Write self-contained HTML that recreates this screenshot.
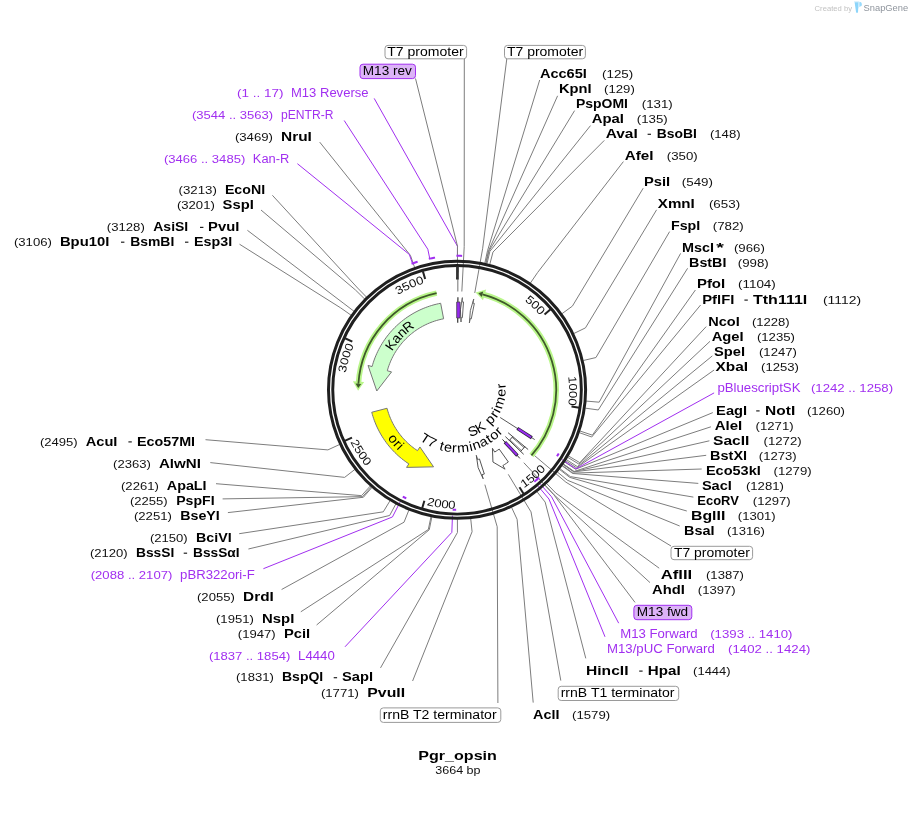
<!DOCTYPE html>
<html><head><meta charset="utf-8"><title>Pgr_opsin</title>
<style>html,body{margin:0;padding:0;background:#fff}body{width:912px;height:813px;overflow:hidden;font-family:"Liberation Sans",sans-serif}svg{display:block;will-change:transform}</style>
</head><body>
<svg width="912" height="813" viewBox="0 0 912 813" font-family="'Liberation Sans', sans-serif">
<rect width="912" height="813" fill="#fff"/>
<polyline points="539.7,80 487.51,250.76 484.75,263.46" fill="none" stroke="#7d7d7d" stroke-width="1"/>
<polyline points="557.6,95.8 488.47,250.97 485.61,263.66" fill="none" stroke="#7d7d7d" stroke-width="1"/>
<polyline points="574.6,110.6 488.94,251.08 486.05,263.75" fill="none" stroke="#7d7d7d" stroke-width="1"/>
<polyline points="590.5,125.6 489.9,251.3 486.91,263.95" fill="none" stroke="#7d7d7d" stroke-width="1"/>
<polyline points="604.3,140.4 492.98,252.06 489.71,264.65" fill="none" stroke="#7d7d7d" stroke-width="1"/>
<polyline points="623.4,161.6 537.68,272.41 530.34,283.13" fill="none" stroke="#7d7d7d" stroke-width="1"/>
<polyline points="643.2,188.2 572.4,306.12 561.89,313.77" fill="none" stroke="#7d7d7d" stroke-width="1"/>
<polyline points="656.6,209.8 585.45,327.89 573.75,333.55" fill="none" stroke="#7d7d7d" stroke-width="1"/>
<polyline points="669.6,231.6 595.95,357.54 583.3,360.5" fill="none" stroke="#7d7d7d" stroke-width="1"/>
<polyline points="680.6,253.4 599.18,402.2 586.22,401.09" fill="none" stroke="#7d7d7d" stroke-width="1"/>
<polyline points="687.6,268.3 598.29,409.97 585.42,408.15" fill="none" stroke="#7d7d7d" stroke-width="1"/>
<polyline points="695.4,290 592.36,435.15 580.03,431.03" fill="none" stroke="#7d7d7d" stroke-width="1"/>
<polyline points="700.6,305 591.73,437 579.45,432.71" fill="none" stroke="#7d7d7d" stroke-width="1"/>
<polyline points="706.2,326.6 579.79,462.66 568.6,456.03" fill="none" stroke="#7d7d7d" stroke-width="1"/>
<polyline points="710,341.3 578.91,464.12 567.8,457.36" fill="none" stroke="#7d7d7d" stroke-width="1"/>
<polyline points="712.3,355.9 577.35,466.61 566.39,459.62" fill="none" stroke="#7d7d7d" stroke-width="1"/>
<polyline points="714.1,370 576.56,467.84 565.67,460.74" fill="none" stroke="#7d7d7d" stroke-width="1"/>
<polyline points="712.8,412.6 575.62,469.27 564.81,462.04" fill="none" stroke="#7d7d7d" stroke-width="1"/>
<polyline points="710.9,426.8 574.1,471.49 563.44,464.06" fill="none" stroke="#7d7d7d" stroke-width="1"/>
<polyline points="709.4,440.8 573.96,471.69 563.31,464.24" fill="none" stroke="#7d7d7d" stroke-width="1"/>
<polyline points="706.2,455.3 573.82,471.89 563.18,464.42" fill="none" stroke="#7d7d7d" stroke-width="1"/>
<polyline points="701.7,469 572.97,473.09 562.41,465.51" fill="none" stroke="#7d7d7d" stroke-width="1"/>
<polyline points="698.3,483.4 572.69,473.48 562.15,465.87" fill="none" stroke="#7d7d7d" stroke-width="1"/>
<polyline points="693.4,497.1 570.35,476.62 560.03,468.72" fill="none" stroke="#7d7d7d" stroke-width="1"/>
<polyline points="686.8,511 569.76,477.39 559.49,469.42" fill="none" stroke="#7d7d7d" stroke-width="1"/>
<polyline points="679.7,526 567.47,480.26 557.41,472.03" fill="none" stroke="#7d7d7d" stroke-width="1"/>
<polyline points="659.2,568.2 555.69,492.98 546.71,483.59" fill="none" stroke="#7d7d7d" stroke-width="1"/>
<polyline points="650,582.6 553.91,494.66 545.09,485.11" fill="none" stroke="#7d7d7d" stroke-width="1"/>
<polyline points="585.8,658.4 545.17,502.1 537.15,491.88" fill="none" stroke="#7d7d7d" stroke-width="1"/>
<polyline points="533.2,702.6 517.1,519.3 511.64,507.5" fill="none" stroke="#7d7d7d" stroke-width="1"/>
<polyline points="412.6,681 472.08,531.72 470.72,518.79" fill="none" stroke="#7d7d7d" stroke-width="1"/>
<polyline points="380.5,667.9 457.44,532.5 457.42,519.5" fill="none" stroke="#7d7d7d" stroke-width="1"/>
<polyline points="316.6,625 429.28,529.74 431.83,516.99" fill="none" stroke="#7d7d7d" stroke-width="1"/>
<polyline points="300.8,611.8 428.32,529.54 430.96,516.81" fill="none" stroke="#7d7d7d" stroke-width="1"/>
<polyline points="281.6,589.5 404.03,522.21 408.88,510.15" fill="none" stroke="#7d7d7d" stroke-width="1"/>
<polyline points="248.4,549 389.65,515.47 395.81,504.03" fill="none" stroke="#7d7d7d" stroke-width="1"/>
<polyline points="239.2,533.7 383.29,511.83 390.03,500.72" fill="none" stroke="#7d7d7d" stroke-width="1"/>
<polyline points="227.9,512.6 363.4,497.27 371.95,487.49" fill="none" stroke="#7d7d7d" stroke-width="1"/>
<polyline points="222.6,498.9 362.66,496.63 371.29,486.9" fill="none" stroke="#7d7d7d" stroke-width="1"/>
<polyline points="216,483.7 361.57,495.65 370.29,486.01" fill="none" stroke="#7d7d7d" stroke-width="1"/>
<polyline points="210.3,462.6 344.64,477.39 354.91,469.42" fill="none" stroke="#7d7d7d" stroke-width="1"/>
<polyline points="205.5,439.7 327.9,449.9 339.7,444.44" fill="none" stroke="#7d7d7d" stroke-width="1"/>
<polyline points="239.5,244.2 340.72,307.91 351.35,315.4" fill="none" stroke="#7d7d7d" stroke-width="1"/>
<polyline points="247.4,230.3 343.9,303.57 354.24,311.46" fill="none" stroke="#7d7d7d" stroke-width="1"/>
<polyline points="261,210 355.58,290.1 364.85,299.22" fill="none" stroke="#7d7d7d" stroke-width="1"/>
<polyline points="272.4,195.3 357.65,288.04 366.74,297.34" fill="none" stroke="#7d7d7d" stroke-width="1"/>
<polyline points="319.7,142.1 410.43,255.39 414.7,267.67" fill="none" stroke="#7d7d7d" stroke-width="1"/>
<polyline points="714.1,392.9 575.89,468.86 561.98,459.62" fill="none" stroke="#a12ff0" stroke-width="1.0"/>
<polyline points="618.7,623.2 551.55,496.79 540.5,484.27" fill="none" stroke="#a12ff0" stroke-width="1.0"/>
<polyline points="605,636.8 548.96,499.02 538.21,486.25" fill="none" stroke="#a12ff0" stroke-width="1.0"/>
<polyline points="345,646.8 451.83,532.4 452.46,515.71" fill="none" stroke="#a12ff0" stroke-width="1.0"/>
<polyline points="263.4,568.7 392.46,516.95 400.05,502.07" fill="none" stroke="#a12ff0" stroke-width="1.0"/>
<polyline points="297.4,163.7 409.31,254.41 412.34,262.99" fill="none" stroke="#a12ff0" stroke-width="1.0"/>
<polyline points="344.2,120.5 427.82,249.23 429.68,258.14" fill="none" stroke="#a12ff0" stroke-width="1.0"/>
<polyline points="374.2,98.4 457.45,246.2 457.43,255.3" fill="none" stroke="#a12ff0" stroke-width="1.0"/>
<polyline points="415.5,78.5 457.5,246.2 457.46,266" fill="none" stroke="#7d7d7d" stroke-width="1"/>
<polyline points="457.78,279 457.72,291.4" fill="none" stroke="#a0a0a0" stroke-width="1.5"/>
<polyline points="464.3,58.8 464.21,246.67 461.84,291.51" fill="none" stroke="#7d7d7d" stroke-width="1"/>
<polyline points="506.8,58.8 482.61,248.77 474.75,292.97" fill="none" stroke="#7d7d7d" stroke-width="1"/>
<polyline points="671,546 565.88,482.17 533.16,454.42" fill="none" stroke="#7d7d7d" stroke-width="1"/>
<polyline points="635,602.4 553.84,494.73 523.81,462.7" fill="none" stroke="#7d7d7d" stroke-width="1"/>
<polyline points="560.8,680.6 531.02,511.89 508.28,474.34" fill="none" stroke="#7d7d7d" stroke-width="1"/>
<polyline points="497.9,703 497.2,526.77 484.87,484.64" fill="none" stroke="#7d7d7d" stroke-width="1"/>
<path d="M558.76,453.54 A119.8,119.8 0 0 1 556.98,456.3" fill="none" stroke="#a12ff0" stroke-width="2" stroke-linecap="butt"/>
<path d="M539.11,477.43 A119.8,119.8 0 0 1 536.52,479.78" fill="none" stroke="#a12ff0" stroke-width="2" stroke-linecap="butt"/>
<path d="M537.75,478.68 A119.8,119.8 0 0 1 534.35,481.65" fill="none" stroke="#a12ff0" stroke-width="2" stroke-linecap="butt"/>
<path d="M456.17,509.8 A119.8,119.8 0 0 1 452.68,509.71" fill="none" stroke="#a12ff0" stroke-width="2" stroke-linecap="butt"/>
<path d="M406.28,498.44 A119.8,119.8 0 0 1 402.78,496.72" fill="none" stroke="#a12ff0" stroke-width="2" stroke-linecap="butt"/>
<path d="M412.5,263.46 A134.2,134.2 0 0 1 416.65,262.07" fill="none" stroke="#a12ff0" stroke-width="2" stroke-linecap="square"/>
<path d="M429.78,258.63 A134.2,134.2 0 0 1 434.07,257.81" fill="none" stroke="#a12ff0" stroke-width="2" stroke-linecap="square"/>
<path d="M457.43,255.8 A134.2,134.2 0 0 1 461.11,255.86" fill="none" stroke="#a12ff0" stroke-width="2" stroke-linecap="square"/>
<circle cx="457.05" cy="389.8" r="128.55" fill="none" stroke="#1f1f1f" stroke-width="3"/>
<circle cx="457.05" cy="389.8" r="124.3" fill="none" stroke="#1f1f1f" stroke-width="2.95"/>
<line x1="457.43" y1="279.6" x2="457.46" y2="266.5" stroke="#333" stroke-width="2.8"/>
<line x1="544.54" y1="314.42" x2="550.59" y2="309.18" stroke="#222" stroke-width="2"/>
<line x1="571.5" y1="406.58" x2="579.42" y2="407.73" stroke="#222" stroke-width="2"/>
<line x1="519.46" y1="487.28" x2="523.77" y2="494.02" stroke="#222" stroke-width="2"/>
<line x1="424.38" y1="500.74" x2="422.11" y2="508.41" stroke="#222" stroke-width="2"/>
<line x1="351.99" y1="437.65" x2="344.7" y2="440.95" stroke="#222" stroke-width="2"/>
<line x1="352.32" y1="341.63" x2="345.05" y2="338.28" stroke="#222" stroke-width="2"/>
<line x1="425.14" y1="279.04" x2="422.92" y2="271.35" stroke="#222" stroke-width="2"/>
<polygon points="440.65,303.26 438.41,303.72 436.19,304.24 433.97,304.81 431.77,305.44 429.59,306.13 427.43,306.87 425.29,307.67 423.17,308.52 421.07,309.43 419,310.39 416.95,311.41 414.93,312.48 412.93,313.6 410.97,314.77 409.04,315.99 407.14,317.26 405.27,318.58 403.44,319.95 401.64,321.37 399.88,322.83 398.16,324.34 396.48,325.89 394.84,327.48 393.25,329.12 391.69,330.79 390.18,332.51 388.71,334.26 387.29,336.06 385.92,337.88 384.59,339.75 383.32,341.64 382.09,343.57 380.91,345.53 379.79,347.52 378.71,349.54 377.69,351.59 376.72,353.66 375.81,355.76 374.95,357.87 374.15,360.02 373.4,362.18 372.71,364.36 372.07,366.55 368.02,365.44 376.81,390.98 391.55,371.92 387.3,370.75 387.83,368.94 388.39,367.15 389.01,365.38 389.67,363.62 390.37,361.88 391.12,360.16 391.92,358.46 392.76,356.78 393.64,355.12 394.56,353.49 395.53,351.88 396.54,350.3 397.59,348.74 398.67,347.21 399.8,345.71 400.97,344.24 402.17,342.8 403.41,341.39 404.69,340.01 406,338.67 407.35,337.36 408.73,336.09 410.14,334.85 411.58,333.65 413.06,332.49 414.56,331.36 416.09,330.28 417.65,329.23 419.24,328.23 420.85,327.27 422.49,326.35 424.15,325.47 425.83,324.64 427.53,323.85 429.26,323.1 431,322.4 432.76,321.74 434.53,321.13 436.32,320.57 438.13,320.05 439.95,319.58 441.78,319.16 443.61,318.78" fill="#ccffcc" stroke="#777" stroke-width="1" stroke-linejoin="miter"/>
<polygon points="371.75,412.26 372.34,414.42 372.99,416.57 373.69,418.7 374.45,420.81 375.26,422.9 376.12,424.97 377.03,427.02 378,429.04 379.02,431.04 380.08,433.01 381.2,434.96 382.37,436.87 383.58,438.76 384.84,440.61 386.15,442.43 387.51,444.22 388.91,445.97 390.35,447.69 391.84,449.37 393.37,451.01 394.94,452.61 396.55,454.17 398.19,455.69 399.88,457.17 401.61,458.6 403.37,459.99 405.16,461.34 406.99,462.63 408.85,463.89 406.55,467.4 433.56,466.85 419.91,446.98 417.5,450.67 415.97,449.64 414.47,448.57 413,447.47 411.55,446.33 410.14,445.15 408.75,443.94 407.4,442.69 406.08,441.41 404.79,440.09 403.53,438.74 402.31,437.37 401.13,435.96 399.98,434.52 398.87,433.05 397.79,431.56 396.76,430.03 395.76,428.49 394.8,426.91 393.88,425.32 393.01,423.7 392.17,422.06 391.38,420.39 390.63,418.71 389.92,417.01 389.26,415.3 388.64,413.56 388.06,411.81 387.53,410.05 387.04,408.28" fill="#ffff00" stroke="#777" stroke-width="1" stroke-linejoin="miter"/>
<polygon points="508.35,461.98 506.56,463.22 504.73,464.42 502.88,465.57 505.05,469.16 492.95,462.02 492.43,448.28 494.7,452.05 496.23,451.1 497.72,450.12 499.2,449.1" fill="#ffffff" stroke="#555" stroke-width="1" stroke-linejoin="miter"/>
<polygon points="484.34,474.03 483.16,474.4 481.98,474.75 483.16,478.78 478.14,467.62 476.31,455.36 477.55,459.59 478.52,459.29 479.48,458.99" fill="#ffffff" stroke="#555" stroke-width="1" stroke-linejoin="miter"/>
<polygon points="463.51,301.93 462.13,301.84 462.36,297.64 460.43,309.66 461,322.01 461.25,317.61 462.38,317.69" fill="#ffffff" stroke="#666" stroke-width="1" stroke-linejoin="miter"/>
<polygon points="474.35,303.38 472.99,303.12 473.74,298.99 470.33,310.68 469.38,323 470.16,318.67 471.28,318.88" fill="#ffffff" stroke="#666" stroke-width="1" stroke-linejoin="miter"/>
<line x1="457.9" y1="297.3" x2="457.7" y2="322.8" stroke="#333" stroke-width="1.2"/>
<polygon points="456.7,302 460.0,302 460.3,310 460.0,318 456.7,318" fill="#9428ee" stroke="#444" stroke-width="0.8"/>
<line x1="508.14" y1="432.75" x2="528.14" y2="449.52" stroke="#444" stroke-width="1"/>
<line x1="505.36" y1="436.58" x2="523.68" y2="454.31" stroke="#444" stroke-width="1"/>
<line x1="512.12" y1="437.33" x2="524.09" y2="447.64" stroke="#666" stroke-width="0.9"/>
<line x1="509.92" y1="439.77" x2="521.41" y2="450.61" stroke="#666" stroke-width="0.9"/>
<line x1="512.74" y1="436.6" x2="509.31" y2="440.41" stroke="#444" stroke-width="1"/>
<line x1="524.84" y1="446.76" x2="520.66" y2="451.39" stroke="#444" stroke-width="1"/>
<line x1="500.17" y1="417.48" x2="534.71" y2="439.57" stroke="#444" stroke-width="0.9"/>
<line x1="517.27" y1="428.41" x2="531.84" y2="437.74" stroke="#2f2440" stroke-width="3.3"/>
<line x1="518.14" y1="428.9" x2="531.12" y2="437.19" stroke="#9a2cf2" stroke-width="1.9"/>
<line x1="502.46" y1="439.4" x2="519.89" y2="458.42" stroke="#333" stroke-width="1"/>
<line x1="504.9" y1="442.05" x2="517.4" y2="455.69" stroke="#2f2440" stroke-width="3.3"/>
<line x1="505.62" y1="442.75" x2="516.84" y2="454.98" stroke="#9a2cf2" stroke-width="1.9"/>
<path d="M531.46,455.47 A99,99 0 0 0 482.49,294.28" fill="none" stroke="#b9f68a" stroke-width="5.5"/>
<polygon points="486.13,289.43 475.6,292.62 483.01,300.29" fill="#b9f68a"/>
<path d="M531.46,455.47 A99,99 0 0 0 482.49,294.28" fill="none" stroke="#3f5a2a" stroke-width="1.8"/>
<polygon points="483.23,291.48 478.29,293.27 481.75,297.09" fill="#3f5a2a"/>
<path d="M436.62,293.16 A99,99 0 0 0 358.4,383.78" fill="none" stroke="#b9f68a" stroke-width="5.5"/>
<polygon points="352.92,381.15 358.1,390.86 364.18,382.11" fill="#b9f68a"/>
<path d="M436.62,293.16 A99,99 0 0 0 358.4,383.78" fill="none" stroke="#3f5a2a" stroke-width="1.8"/>
<polygon points="355.5,383.6 358.22,388.1 361.29,383.97" fill="#3f5a2a"/>
<text transform="translate(527.24,303.12) rotate(38.87) scale(1.15,1)" x="-3.17" y="0" font-size="11.4" fill="#111">5</text>
<text transform="translate(532.7,307.82) rotate(42.58) scale(1.15,1)" x="-3.17" y="0" font-size="11.4" fill="#111">0</text>
<text transform="translate(537.85,312.86) rotate(46.28) scale(1.15,1)" x="-3.17" y="0" font-size="11.4" fill="#111">0</text>
<text transform="translate(568.65,380.02) rotate(84.89) scale(1.15,1)" x="-3.17" y="0" font-size="11.4" fill="#111">1</text>
<text transform="translate(569.07,387.22) rotate(88.58) scale(1.15,1)" x="-3.17" y="0" font-size="11.4" fill="#111">0</text>
<text transform="translate(569.01,394.43) rotate(92.27) scale(1.15,1)" x="-3.17" y="0" font-size="11.4" fill="#111">0</text>
<text transform="translate(568.5,401.61) rotate(95.96) scale(1.15,1)" x="-3.17" y="0" font-size="11.4" fill="#111">0</text>
<text transform="translate(346.51,369.34) rotate(280.57) scale(1.15,1)" x="-3.17" y="0" font-size="11.4" fill="#111">3</text>
<text transform="translate(348.06,362.3) rotate(284.24) scale(1.15,1)" x="-3.17" y="0" font-size="11.4" fill="#111">0</text>
<text transform="translate(350.06,355.38) rotate(287.91) scale(1.15,1)" x="-3.17" y="0" font-size="11.4" fill="#111">0</text>
<text transform="translate(352.49,348.59) rotate(291.58) scale(1.15,1)" x="-3.17" y="0" font-size="11.4" fill="#111">0</text>
<text transform="translate(401.23,293.22) rotate(329.96) scale(1.15,1)" x="-3.17" y="0" font-size="11.4" fill="#111">3</text>
<text transform="translate(407.58,289.82) rotate(333.65) scale(1.15,1)" x="-3.17" y="0" font-size="11.4" fill="#111">5</text>
<text transform="translate(414.14,286.83) rotate(337.35) scale(1.15,1)" x="-3.17" y="0" font-size="11.4" fill="#111">0</text>
<text transform="translate(420.87,284.27) rotate(341.04) scale(1.15,1)" x="-3.17" y="0" font-size="11.4" fill="#111">0</text>
<text transform="translate(527.04,486.22) rotate(324.03) scale(1.15,1)" x="-3.17" y="0" font-size="11.4" fill="#111">1</text>
<text transform="translate(532.8,481.77) rotate(320.52) scale(1.15,1)" x="-3.17" y="0" font-size="11.4" fill="#111">5</text>
<text transform="translate(538.27,476.97) rotate(317.01) scale(1.15,1)" x="-3.17" y="0" font-size="11.4" fill="#111">0</text>
<text transform="translate(543.44,471.85) rotate(313.5) scale(1.15,1)" x="-3.17" y="0" font-size="11.4" fill="#111">0</text>
<text transform="translate(430.14,505.78) rotate(373.15) scale(1.15,1)" x="-3.17" y="0" font-size="11.4" fill="#111">2</text>
<text transform="translate(437.28,507.22) rotate(369.65) scale(1.15,1)" x="-3.17" y="0" font-size="11.4" fill="#111">0</text>
<text transform="translate(444.49,508.22) rotate(366.14) scale(1.15,1)" x="-3.17" y="0" font-size="11.4" fill="#111">0</text>
<text transform="translate(451.74,508.77) rotate(362.63) scale(1.15,1)" x="-3.17" y="0" font-size="11.4" fill="#111">0</text>
<text transform="translate(351.95,445.31) rotate(422.28) scale(1.15,1)" x="-3.17" y="0" font-size="11.4" fill="#111">2</text>
<text transform="translate(355.53,451.64) rotate(418.77) scale(1.15,1)" x="-3.17" y="0" font-size="11.4" fill="#111">5</text>
<text transform="translate(359.49,457.75) rotate(415.26) scale(1.15,1)" x="-3.17" y="0" font-size="11.4" fill="#111">0</text>
<text transform="translate(363.82,463.6) rotate(411.76) scale(1.15,1)" x="-3.17" y="0" font-size="11.4" fill="#111">0</text>
<text transform="translate(394.61,347.59) rotate(304.12) scale(1.04,1)" x="-4.44" y="0" font-size="13.3" fill="#000">K</text>
<text transform="translate(399.39,341.29) rotate(310.12) scale(1.04,1)" x="-3.7" y="0" font-size="13.3" fill="#000">a</text>
<text transform="translate(404.7,335.61) rotate(316.01) scale(1.04,1)" x="-3.7" y="0" font-size="13.3" fill="#000">n</text>
<text transform="translate(410.96,330.19) rotate(322.3) scale(1.04,1)" x="-4.8" y="0" font-size="13.3" fill="#000">R</text>
<text transform="translate(389.96,441.34) rotate(412.63) scale(1.06,1)" x="-3.7" y="0" font-size="13.3" fill="#000">o</text>
<text transform="translate(394.2,446.47) rotate(408.13) scale(1.06,1)" x="-2.21" y="0" font-size="13.3" fill="#000">r</text>
<text transform="translate(397.28,449.72) rotate(405.1) scale(1.06,1)" x="-1.48" y="0" font-size="13.3" fill="#000">i</text>
<text transform="translate(422.94,442.28) rotate(393.24) scale(1.08,1)" x="-4.06" y="0" font-size="13.3" fill="#000">T</text>
<text transform="translate(430.24,446.39) rotate(385.55) scale(1.08,1)" x="-3.7" y="0" font-size="13.3" fill="#000">7</text>
<text transform="translate(440.71,450.29) rotate(375.3) scale(1.08,1)" x="-1.85" y="0" font-size="13.3" fill="#000">t</text>
<text transform="translate(447.33,451.71) rotate(369.09) scale(1.08,1)" x="-3.7" y="0" font-size="13.3" fill="#000">e</text>
<text transform="translate(454.18,452.43) rotate(362.77) scale(1.08,1)" x="-2.21" y="0" font-size="13.3" fill="#000">r</text>
<text transform="translate(463.48,452.18) rotate(354.23) scale(1.08,1)" x="-5.54" y="0" font-size="13.3" fill="#000">m</text>
<text transform="translate(471.78,450.78) rotate(346.51) scale(1.08,1)" x="-1.48" y="0" font-size="13.3" fill="#000">i</text>
<text transform="translate(477.66,449.06) rotate(340.9) scale(1.08,1)" x="-3.7" y="0" font-size="13.3" fill="#000">n</text>
<text transform="translate(485.37,445.79) rotate(333.21) scale(1.08,1)" x="-3.7" y="0" font-size="13.3" fill="#000">a</text>
<text transform="translate(491.22,442.43) rotate(327.02) scale(1.08,1)" x="-1.85" y="0" font-size="13.3" fill="#000">t</text>
<text transform="translate(496.67,438.46) rotate(320.84) scale(1.08,1)" x="-3.7" y="0" font-size="13.3" fill="#000">o</text>
<text transform="translate(501.75,433.83) rotate(314.53) scale(1.08,1)" x="-2.21" y="0" font-size="13.3" fill="#000">r</text>
<text transform="translate(474.45,435.33) rotate(339.16) scale(1.08,1)" x="-4.44" y="0" font-size="13.3" fill="#000">S</text>
<text transform="translate(482.68,431.27) rotate(328.3) scale(1.08,1)" x="-4.44" y="0" font-size="13.3" fill="#000">K</text>
<text transform="translate(493.19,422.51) rotate(312.1) scale(1.08,1)" x="-3.7" y="0" font-size="13.3" fill="#000">p</text>
<text transform="translate(497.74,416.63) rotate(303.3) scale(1.08,1)" x="-2.21" y="0" font-size="13.3" fill="#000">r</text>
<text transform="translate(500.22,412.39) rotate(297.5) scale(1.08,1)" x="-1.48" y="0" font-size="13.3" fill="#000">i</text>
<text transform="translate(503.59,404.15) rotate(286.97) scale(1.08,1)" x="-5.54" y="0" font-size="13.3" fill="#000">m</text>
<text transform="translate(505.6,393.04) rotate(273.59) scale(1.08,1)" x="-3.7" y="0" font-size="13.3" fill="#000">e</text>
<text transform="translate(505.51,385.74) rotate(264.96) scale(1.08,1)" x="-2.21" y="0" font-size="13.3" fill="#000">r</text>
<text x="539.9" y="77.6" font-weight="bold" font-size="12.4" fill="#000" textLength="47" lengthAdjust="spacingAndGlyphs">Acc65I</text>
<text x="602" y="77.6" font-size="11.3" fill="#111" textLength="31.2" lengthAdjust="spacingAndGlyphs">(125)</text>
<text x="558.9" y="92.6" font-weight="bold" font-size="12.4" fill="#000" textLength="32.7" lengthAdjust="spacingAndGlyphs">KpnI</text>
<text x="604.1" y="92.6" font-size="11.3" fill="#111" textLength="30.7" lengthAdjust="spacingAndGlyphs">(129)</text>
<text x="576" y="107.6" font-weight="bold" font-size="12.4" fill="#000" textLength="52" lengthAdjust="spacingAndGlyphs">PspOMI</text>
<text x="641.8" y="107.6" font-size="11.3" fill="#111" textLength="30.9" lengthAdjust="spacingAndGlyphs">(131)</text>
<text x="591.8" y="122.9" font-weight="bold" font-size="12.4" fill="#000" textLength="32.2" lengthAdjust="spacingAndGlyphs">ApaI</text>
<text x="636.8" y="122.9" font-size="11.3" fill="#111" textLength="30.9" lengthAdjust="spacingAndGlyphs">(135)</text>
<text x="605.7" y="137.9" font-weight="bold" font-size="12.4" fill="#000" textLength="32" lengthAdjust="spacingAndGlyphs">AvaI</text>
<rect x="647.6" y="133.7" width="3.4" height="1.2" fill="#222"/>
<text x="656.8" y="137.9" font-weight="bold" font-size="12.4" fill="#000" textLength="40.1" lengthAdjust="spacingAndGlyphs">BsoBI</text>
<text x="709.9" y="137.9" font-size="11.3" fill="#111" textLength="30.7" lengthAdjust="spacingAndGlyphs">(148)</text>
<text x="624.7" y="159.7" font-weight="bold" font-size="12.4" fill="#000" textLength="28.8" lengthAdjust="spacingAndGlyphs">AfeI</text>
<text x="666.8" y="159.7" font-size="11.3" fill="#111" textLength="30.9" lengthAdjust="spacingAndGlyphs">(350)</text>
<text x="643.9" y="185.5" font-weight="bold" font-size="12.4" fill="#000" textLength="26.2" lengthAdjust="spacingAndGlyphs">PsiI</text>
<text x="681.8" y="185.5" font-size="11.3" fill="#111" textLength="31.2" lengthAdjust="spacingAndGlyphs">(549)</text>
<text x="657.8" y="207.6" font-weight="bold" font-size="12.4" fill="#000" textLength="37" lengthAdjust="spacingAndGlyphs">XmnI</text>
<text x="708.9" y="207.6" font-size="11.3" fill="#111" textLength="31.2" lengthAdjust="spacingAndGlyphs">(653)</text>
<text x="671" y="229.5" font-weight="bold" font-size="12.4" fill="#000" textLength="29.3" lengthAdjust="spacingAndGlyphs">FspI</text>
<text x="712.8" y="229.5" font-size="11.3" fill="#111" textLength="31" lengthAdjust="spacingAndGlyphs">(782)</text>
<text x="682" y="251.6" font-weight="bold" font-size="12.4" fill="#000" textLength="32" lengthAdjust="spacingAndGlyphs">MscI</text>
<text x="716.2" y="251.6" font-weight="bold" font-size="12.4" fill="#000" textLength="7.6" lengthAdjust="spacingAndGlyphs">*</text>
<text x="733.9" y="251.6" font-size="11.3" fill="#111" textLength="30.9" lengthAdjust="spacingAndGlyphs">(966)</text>
<text x="689.1" y="266.6" font-weight="bold" font-size="12.4" fill="#000" textLength="37.3" lengthAdjust="spacingAndGlyphs">BstBI</text>
<text x="737.8" y="266.6" font-size="11.3" fill="#111" textLength="31" lengthAdjust="spacingAndGlyphs">(998)</text>
<text x="696.9" y="288.4" font-weight="bold" font-size="12.4" fill="#000" textLength="28.3" lengthAdjust="spacingAndGlyphs">PfoI</text>
<text x="738" y="288.4" font-size="11.3" fill="#111" textLength="37.8" lengthAdjust="spacingAndGlyphs">(1104)</text>
<text x="702.2" y="303.7" font-weight="bold" font-size="12.4" fill="#000" textLength="32.2" lengthAdjust="spacingAndGlyphs">PflFI</text>
<rect x="744.4" y="299.5" width="3.4" height="1.2" fill="#222"/>
<text x="753" y="303.7" font-weight="bold" font-size="12.4" fill="#000" textLength="54.3" lengthAdjust="spacingAndGlyphs">Tth111I</text>
<text x="823" y="303.7" font-size="11.3" fill="#111" textLength="38" lengthAdjust="spacingAndGlyphs">(1112)</text>
<text x="708.2" y="325.5" font-weight="bold" font-size="12.4" fill="#000" textLength="31.5" lengthAdjust="spacingAndGlyphs">NcoI</text>
<text x="751.9" y="325.5" font-size="11.3" fill="#111" textLength="37.8" lengthAdjust="spacingAndGlyphs">(1228)</text>
<text x="711.7" y="340.5" font-weight="bold" font-size="12.4" fill="#000" textLength="32" lengthAdjust="spacingAndGlyphs">AgeI</text>
<text x="756.9" y="340.5" font-size="11.3" fill="#111" textLength="38.1" lengthAdjust="spacingAndGlyphs">(1235)</text>
<text x="714" y="355.8" font-weight="bold" font-size="12.4" fill="#000" textLength="31" lengthAdjust="spacingAndGlyphs">SpeI</text>
<text x="759" y="355.8" font-size="11.3" fill="#111" textLength="37.8" lengthAdjust="spacingAndGlyphs">(1247)</text>
<text x="715.6" y="370.8" font-weight="bold" font-size="12.4" fill="#000" textLength="32.5" lengthAdjust="spacingAndGlyphs">XbaI</text>
<text x="761.1" y="370.8" font-size="11.3" fill="#111" textLength="37.8" lengthAdjust="spacingAndGlyphs">(1253)</text>
<text x="716.1" y="414.5" font-weight="bold" font-size="12.4" fill="#000" textLength="31" lengthAdjust="spacingAndGlyphs">EagI</text>
<rect x="756.2" y="410.3" width="3.4" height="1.2" fill="#222"/>
<text x="765.1" y="414.5" font-weight="bold" font-size="12.4" fill="#000" textLength="30.1" lengthAdjust="spacingAndGlyphs">NotI</text>
<text x="806.9" y="414.5" font-size="11.3" fill="#111" textLength="38.1" lengthAdjust="spacingAndGlyphs">(1260)</text>
<text x="714.8" y="429.5" font-weight="bold" font-size="12.4" fill="#000" textLength="27.5" lengthAdjust="spacingAndGlyphs">AleI</text>
<text x="755.6" y="429.5" font-size="11.3" fill="#111" textLength="38" lengthAdjust="spacingAndGlyphs">(1271)</text>
<text x="713" y="444.5" font-weight="bold" font-size="12.4" fill="#000" textLength="36.4" lengthAdjust="spacingAndGlyphs">SacII</text>
<text x="763.5" y="444.5" font-size="11.3" fill="#111" textLength="38.1" lengthAdjust="spacingAndGlyphs">(1272)</text>
<text x="710.1" y="459.5" font-weight="bold" font-size="12.4" fill="#000" textLength="37" lengthAdjust="spacingAndGlyphs">BstXI</text>
<text x="758.8" y="459.5" font-size="11.3" fill="#111" textLength="37.8" lengthAdjust="spacingAndGlyphs">(1273)</text>
<text x="705.9" y="474.7" font-weight="bold" font-size="12.4" fill="#000" textLength="54.9" lengthAdjust="spacingAndGlyphs">Eco53kI</text>
<text x="773.5" y="474.7" font-size="11.3" fill="#111" textLength="38.1" lengthAdjust="spacingAndGlyphs">(1279)</text>
<text x="701.9" y="489.7" font-weight="bold" font-size="12.4" fill="#000" textLength="30" lengthAdjust="spacingAndGlyphs">SacI</text>
<text x="745.9" y="489.7" font-size="11.3" fill="#111" textLength="38" lengthAdjust="spacingAndGlyphs">(1281)</text>
<text x="697.3" y="504.7" font-weight="bold" font-size="12.4" fill="#000" textLength="41.5" lengthAdjust="spacingAndGlyphs">EcoRV</text>
<text x="752.8" y="504.7" font-size="11.3" fill="#111" textLength="37.8" lengthAdjust="spacingAndGlyphs">(1297)</text>
<text x="691" y="519.5" font-weight="bold" font-size="12.4" fill="#000" textLength="34.3" lengthAdjust="spacingAndGlyphs">BglII</text>
<text x="737.8" y="519.5" font-size="11.3" fill="#111" textLength="37.8" lengthAdjust="spacingAndGlyphs">(1301)</text>
<text x="684.1" y="534.5" font-weight="bold" font-size="12.4" fill="#000" textLength="30.4" lengthAdjust="spacingAndGlyphs">BsaI</text>
<text x="727" y="534.5" font-size="11.3" fill="#111" textLength="37.8" lengthAdjust="spacingAndGlyphs">(1316)</text>
<text x="660.7" y="578.7" font-weight="bold" font-size="12.4" fill="#000" textLength="31.5" lengthAdjust="spacingAndGlyphs">AflII</text>
<text x="706" y="578.7" font-size="11.3" fill="#111" textLength="37.8" lengthAdjust="spacingAndGlyphs">(1387)</text>
<text x="652" y="593.7" font-weight="bold" font-size="12.4" fill="#000" textLength="32.8" lengthAdjust="spacingAndGlyphs">AhdI</text>
<text x="697.8" y="593.7" font-size="11.3" fill="#111" textLength="37.8" lengthAdjust="spacingAndGlyphs">(1397)</text>
<text x="586" y="674.7" font-weight="bold" font-size="12.4" fill="#000" textLength="42.5" lengthAdjust="spacingAndGlyphs">HincII</text>
<rect x="639.2" y="670.5" width="3.4" height="1.2" fill="#222"/>
<text x="647.8" y="674.7" font-weight="bold" font-size="12.4" fill="#000" textLength="32.8" lengthAdjust="spacingAndGlyphs">HpaI</text>
<text x="693.1" y="674.7" font-size="11.3" fill="#111" textLength="37.5" lengthAdjust="spacingAndGlyphs">(1444)</text>
<text x="533.1" y="718.9" font-weight="bold" font-size="12.4" fill="#000" textLength="26.4" lengthAdjust="spacingAndGlyphs">AclI</text>
<text x="572" y="718.9" font-size="11.3" fill="#111" textLength="38.1" lengthAdjust="spacingAndGlyphs">(1579)</text>
<text x="320.9" y="696.6" font-size="11.3" fill="#111" textLength="38.1" lengthAdjust="spacingAndGlyphs">(1771)</text>
<text x="367.3" y="696.6" font-weight="bold" font-size="12.4" fill="#000" textLength="37.8" lengthAdjust="spacingAndGlyphs">PvuII</text>
<text x="236" y="681.3" font-size="11.3" fill="#111" textLength="37.8" lengthAdjust="spacingAndGlyphs">(1831)</text>
<text x="282" y="681.3" font-weight="bold" font-size="12.4" fill="#000" textLength="41.2" lengthAdjust="spacingAndGlyphs">BspQI</text>
<rect x="333.7" y="677.1" width="3.4" height="1.2" fill="#222"/>
<text x="342" y="681.3" font-weight="bold" font-size="12.4" fill="#000" textLength="31" lengthAdjust="spacingAndGlyphs">SapI</text>
<text x="237.8" y="637.6" font-size="11.3" fill="#111" textLength="37.8" lengthAdjust="spacingAndGlyphs">(1947)</text>
<text x="283.9" y="637.6" font-weight="bold" font-size="12.4" fill="#000" textLength="26.2" lengthAdjust="spacingAndGlyphs">PciI</text>
<text x="216" y="622.6" font-size="11.3" fill="#111" textLength="37.8" lengthAdjust="spacingAndGlyphs">(1951)</text>
<text x="262" y="622.6" font-weight="bold" font-size="12.4" fill="#000" textLength="32.3" lengthAdjust="spacingAndGlyphs">NspI</text>
<text x="197" y="600.8" font-size="11.3" fill="#111" textLength="37.8" lengthAdjust="spacingAndGlyphs">(2055)</text>
<text x="243.1" y="600.8" font-weight="bold" font-size="12.4" fill="#000" textLength="30.7" lengthAdjust="spacingAndGlyphs">DrdI</text>
<text x="89.9" y="556.8" font-size="11.3" fill="#111" textLength="37.8" lengthAdjust="spacingAndGlyphs">(2120)</text>
<text x="136" y="556.8" font-weight="bold" font-size="12.4" fill="#000" textLength="38.3" lengthAdjust="spacingAndGlyphs">BssSI</text>
<rect x="183.7" y="552.6" width="3.4" height="1.2" fill="#222"/>
<text x="193.1" y="556.8" font-weight="bold" font-size="12.4" fill="#000" textLength="46.4" lengthAdjust="spacingAndGlyphs">BssSαI</text>
<text x="149.9" y="541.8" font-size="11.3" fill="#111" textLength="37.8" lengthAdjust="spacingAndGlyphs">(2150)</text>
<text x="196" y="541.8" font-weight="bold" font-size="12.4" fill="#000" textLength="35.6" lengthAdjust="spacingAndGlyphs">BciVI</text>
<text x="133.9" y="519.7" font-size="11.3" fill="#111" textLength="38" lengthAdjust="spacingAndGlyphs">(2251)</text>
<text x="180.2" y="519.7" font-weight="bold" font-size="12.4" fill="#000" textLength="39.6" lengthAdjust="spacingAndGlyphs">BseYI</text>
<text x="129.9" y="504.5" font-size="11.3" fill="#111" textLength="37.8" lengthAdjust="spacingAndGlyphs">(2255)</text>
<text x="176.2" y="504.5" font-weight="bold" font-size="12.4" fill="#000" textLength="38.4" lengthAdjust="spacingAndGlyphs">PspFI</text>
<text x="121" y="489.7" font-size="11.3" fill="#111" textLength="37.8" lengthAdjust="spacingAndGlyphs">(2261)</text>
<text x="166.8" y="489.7" font-weight="bold" font-size="12.4" fill="#000" textLength="39.8" lengthAdjust="spacingAndGlyphs">ApaLI</text>
<text x="113.1" y="467.6" font-size="11.3" fill="#111" textLength="37.8" lengthAdjust="spacingAndGlyphs">(2363)</text>
<text x="158.9" y="467.6" font-weight="bold" font-size="12.4" fill="#000" textLength="42" lengthAdjust="spacingAndGlyphs">AlwNI</text>
<text x="39.9" y="445.5" font-size="11.3" fill="#111" textLength="37.8" lengthAdjust="spacingAndGlyphs">(2495)</text>
<text x="85.7" y="445.5" font-weight="bold" font-size="12.4" fill="#000" textLength="31.7" lengthAdjust="spacingAndGlyphs">AcuI</text>
<rect x="128.4" y="441.3" width="3.4" height="1.2" fill="#222"/>
<text x="137" y="445.5" font-weight="bold" font-size="12.4" fill="#000" textLength="58.1" lengthAdjust="spacingAndGlyphs">Eco57MI</text>
<text x="13.9" y="245.8" font-size="11.3" fill="#111" textLength="38" lengthAdjust="spacingAndGlyphs">(3106)</text>
<text x="59.9" y="245.8" font-weight="bold" font-size="12.4" fill="#000" textLength="49.4" lengthAdjust="spacingAndGlyphs">Bpu10I</text>
<rect x="121" y="241.6" width="3.4" height="1.2" fill="#222"/>
<text x="130.2" y="245.8" font-weight="bold" font-size="12.4" fill="#000" textLength="44.1" lengthAdjust="spacingAndGlyphs">BsmBI</text>
<rect x="185" y="241.6" width="3.4" height="1.2" fill="#222"/>
<text x="194.1" y="245.8" font-weight="bold" font-size="12.4" fill="#000" textLength="38.1" lengthAdjust="spacingAndGlyphs">Esp3I</text>
<text x="106.8" y="231" font-size="11.3" fill="#111" textLength="38" lengthAdjust="spacingAndGlyphs">(3128)</text>
<text x="153.3" y="231" font-weight="bold" font-size="12.4" fill="#000" textLength="34.9" lengthAdjust="spacingAndGlyphs">AsiSI</text>
<rect x="200" y="226.8" width="3.4" height="1.2" fill="#222"/>
<text x="208.1" y="231" font-weight="bold" font-size="12.4" fill="#000" textLength="31.2" lengthAdjust="spacingAndGlyphs">PvuI</text>
<text x="176.9" y="208.8" font-size="11.3" fill="#111" textLength="37.9" lengthAdjust="spacingAndGlyphs">(3201)</text>
<text x="222.6" y="208.8" font-weight="bold" font-size="12.4" fill="#000" textLength="31.2" lengthAdjust="spacingAndGlyphs">SspI</text>
<text x="178.6" y="194" font-size="11.3" fill="#111" textLength="38.3" lengthAdjust="spacingAndGlyphs">(3213)</text>
<text x="224.9" y="194" font-weight="bold" font-size="12.4" fill="#000" textLength="40.2" lengthAdjust="spacingAndGlyphs">EcoNI</text>
<text x="234.9" y="140.8" font-size="11.3" fill="#111" textLength="38.1" lengthAdjust="spacingAndGlyphs">(3469)</text>
<text x="281" y="140.8" font-weight="bold" font-size="12.4" fill="#000" textLength="30.9" lengthAdjust="spacingAndGlyphs">NruI</text>
<text x="717.4" y="392.4" font-size="12.3" fill="#a12ff0" textLength="83.1" lengthAdjust="spacingAndGlyphs">pBluescriptSK</text>
<text x="810.9" y="392.4" font-size="11.3" fill="#a12ff0" textLength="82.2" lengthAdjust="spacingAndGlyphs">(1242 .. 1258)</text>
<text x="620.2" y="638.2" font-size="12.3" fill="#a12ff0" textLength="77.5" lengthAdjust="spacingAndGlyphs">M13 Forward</text>
<text x="710.2" y="638.2" font-size="11.3" fill="#a12ff0" textLength="82.3" lengthAdjust="spacingAndGlyphs">(1393 .. 1410)</text>
<text x="607" y="653" font-size="12.3" fill="#a12ff0" textLength="107.8" lengthAdjust="spacingAndGlyphs">M13/pUC Forward</text>
<text x="728.1" y="653" font-size="11.3" fill="#a12ff0" textLength="82.3" lengthAdjust="spacingAndGlyphs">(1402 .. 1424)</text>
<text x="208.9" y="659.5" font-size="11.3" fill="#a12ff0" textLength="81.4" lengthAdjust="spacingAndGlyphs">(1837 .. 1854)</text>
<text x="298.1" y="659.5" font-size="12.3" fill="#a12ff0" textLength="36.7" lengthAdjust="spacingAndGlyphs">L4440</text>
<text x="90.7" y="578.8" font-size="11.3" fill="#a12ff0" textLength="81.7" lengthAdjust="spacingAndGlyphs">(2088 .. 2107)</text>
<text x="180.1" y="578.8" font-size="12.3" fill="#a12ff0" textLength="74.6" lengthAdjust="spacingAndGlyphs">pBR322ori-F</text>
<text x="163.9" y="162.6" font-size="11.3" fill="#a12ff0" textLength="81.4" lengthAdjust="spacingAndGlyphs">(3466 .. 3485)</text>
<text x="252.8" y="162.6" font-size="12.3" fill="#a12ff0" textLength="36.5" lengthAdjust="spacingAndGlyphs">Kan-R</text>
<text x="192" y="118.9" font-size="11.3" fill="#a12ff0" textLength="81.2" lengthAdjust="spacingAndGlyphs">(3544 .. 3563)</text>
<text x="281" y="118.9" font-size="12.3" fill="#a12ff0" textLength="52.5" lengthAdjust="spacingAndGlyphs">pENTR-R</text>
<text x="237" y="97.1" font-size="11.3" fill="#a12ff0" textLength="46.5" lengthAdjust="spacingAndGlyphs">(1 .. 17)</text>
<text x="291" y="97.1" font-size="12.3" fill="#a12ff0" textLength="77.5" lengthAdjust="spacingAndGlyphs">M13 Reverse</text>
<rect x="385" y="45.4" width="81.6" height="13.4" rx="3" ry="3" fill="#ffffff" stroke="#9a9a9a" stroke-width="1"/>
<text x="387.3" y="56" font-size="12.3" fill="#000" textLength="76.4" lengthAdjust="spacingAndGlyphs">T7 promoter</text>
<rect x="504.5" y="45.4" width="80.9" height="13.4" rx="3" ry="3" fill="#ffffff" stroke="#9a9a9a" stroke-width="1"/>
<text x="506.9" y="56" font-size="12.3" fill="#000" textLength="76.3" lengthAdjust="spacingAndGlyphs">T7 promoter</text>
<rect x="360" y="64.2" width="55.5" height="14.4" rx="3" ry="3" fill="#dcb3f7" stroke="#a12ff0" stroke-width="1"/>
<text x="362.8" y="75.4" font-size="12.3" fill="#000" textLength="49.1" lengthAdjust="spacingAndGlyphs">M13 rev</text>
<rect x="671" y="546.3" width="81.6" height="13.4" rx="3" ry="3" fill="#ffffff" stroke="#9a9a9a" stroke-width="1"/>
<text x="673.9" y="556.8" font-size="12.3" fill="#000" textLength="75.9" lengthAdjust="spacingAndGlyphs">T7 promoter</text>
<rect x="633.9" y="605.3" width="57.9" height="14.4" rx="3" ry="3" fill="#dcb3f7" stroke="#a12ff0" stroke-width="1"/>
<text x="636.8" y="616.4" font-size="12.3" fill="#000" textLength="51.4" lengthAdjust="spacingAndGlyphs">M13 fwd</text>
<rect x="558.2" y="686.3" width="120.5" height="14.2" rx="3" ry="3" fill="#ffffff" stroke="#9a9a9a" stroke-width="1"/>
<text x="560.7" y="696.8" font-size="12.3" fill="#000" textLength="113.8" lengthAdjust="spacingAndGlyphs">rrnB T1 terminator</text>
<rect x="380.3" y="707.9" width="120.5" height="14.5" rx="3" ry="3" fill="#ffffff" stroke="#9a9a9a" stroke-width="1"/>
<text x="382.8" y="718.7" font-size="12.3" fill="#000" textLength="113.8" lengthAdjust="spacingAndGlyphs">rrnB T2 terminator</text>
<text x="457.6" y="759.8" text-anchor="middle" font-weight="bold" font-size="13.6" fill="#000" textLength="78.6" lengthAdjust="spacingAndGlyphs">Pgr_opsin</text>
<text x="457.9" y="773.6" text-anchor="middle" font-size="11" fill="#111" textLength="45.4" lengthAdjust="spacingAndGlyphs">3664 bp</text>
<text x="814.6" y="10.6" font-size="7.9" fill="#c2c2c2" textLength="37.4" lengthAdjust="spacingAndGlyphs">Created by</text>
<rect x="854.1" y="1.1" width="5.2" height="1.2" fill="#d9f1fd"/>
<path d="M854.6,2.2 L858.6,2.2 L858.0,12.4 Q857.1,13.2 856.1,12.6 Z" fill="#8dd5fa"/>
<path d="M858.5,2.3 L859.7,2.3 L859.5,6.8 L858.2,8.6 Z" fill="#c5eafd"/>
<path d="M859.5,2.1 L860.5,2.1 Q861.8,2.6 861.8,4 L861.8,5.6 Q861.2,6.5 859.4,6.7 Z" fill="#9adbfc"/>
<text x="863.6" y="10.6" font-size="9.4" fill="#8f959d" textLength="44.6" lengthAdjust="spacingAndGlyphs">SnapGene</text>
</svg>
</body></html>
